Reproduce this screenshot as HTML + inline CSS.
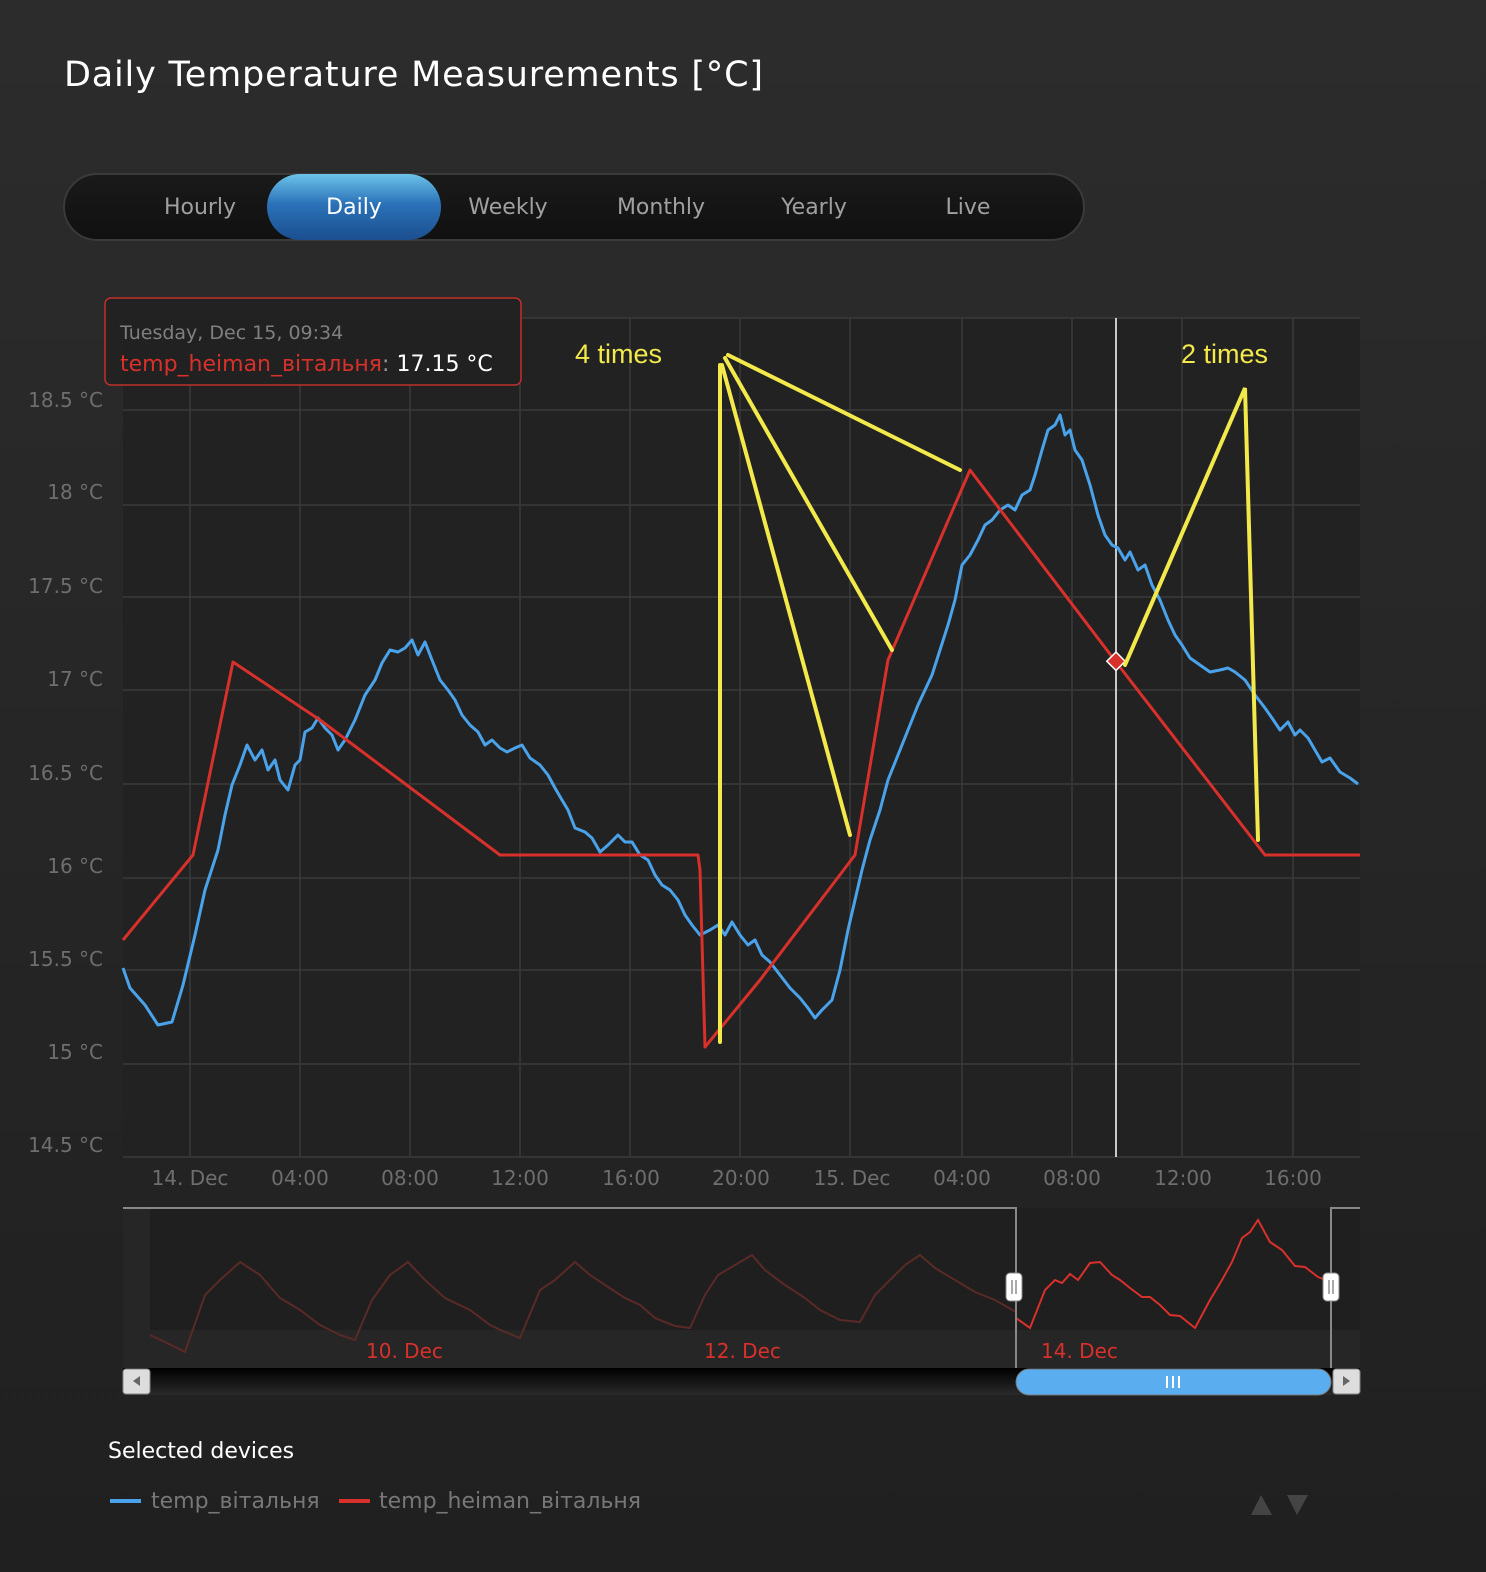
<!DOCTYPE html>
<html><head><meta charset="utf-8"><style>
html,body{margin:0;padding:0;}
body{width:1486px;height:1572px;background:linear-gradient(#2c2c2c,#202020);overflow:hidden;font-family:"DejaVu Sans","Liberation Sans",sans-serif;}
svg{display:block;}
</style></head><body>
<svg width="1486" height="1572" xmlns="http://www.w3.org/2000/svg" font-family="DejaVu Sans, Liberation Sans, sans-serif">
<defs>
<linearGradient id="pill" x1="0" y1="0" x2="0" y2="1"><stop offset="0" stop-color="#6cc3ea"/><stop offset="0.45" stop-color="#2b72b8"/><stop offset="1" stop-color="#1b4f8f"/></linearGradient>
<linearGradient id="bar" x1="0" y1="0" x2="0" y2="1"><stop offset="0" stop-color="#1a1a1a"/><stop offset="1" stop-color="#101010"/></linearGradient>
<linearGradient id="sb" x1="0" y1="0" x2="0" y2="1"><stop offset="0" stop-color="#000"/><stop offset="1" stop-color="#2a2a2a"/></linearGradient>
</defs>
<text x="64" y="86" font-size="35" fill="#fff" textLength="699">Daily Temperature Measurements [°C]</text>
<rect x="64" y="174" width="1020" height="66" rx="33" fill="url(#bar)" stroke="#3a3a3a" stroke-width="2"/>
<rect x="267" y="174" width="174" height="66" rx="33" fill="url(#pill)"/>
<g font-size="22" fill="#a0a0a0" text-anchor="middle">
<text x="200" y="214">Hourly</text><text x="354" y="214" fill="#fff">Daily</text><text x="508" y="214">Weekly</text><text x="661" y="214">Monthly</text><text x="814" y="214">Yearly</text><text x="968" y="214">Live</text>
</g>
<rect x="123" y="318" width="1237" height="839" fill="#222"/>
<g stroke="#3a3a3a" stroke-width="1.5">
<line x1="123" y1="318" x2="1360" y2="318"/><line x1="123" y1="410" x2="1360" y2="410"/><line x1="123" y1="505" x2="1360" y2="505"/><line x1="123" y1="597" x2="1360" y2="597"/><line x1="123" y1="690" x2="1360" y2="690"/><line x1="123" y1="784" x2="1360" y2="784"/><line x1="123" y1="878" x2="1360" y2="878"/><line x1="123" y1="970" x2="1360" y2="970"/><line x1="123" y1="1064" x2="1360" y2="1064"/><line x1="123" y1="1157" x2="1360" y2="1157"/>
<line x1="190" y1="318" x2="190" y2="1157"/><line x1="300" y1="318" x2="300" y2="1157"/><line x1="410" y1="318" x2="410" y2="1157"/><line x1="520" y1="318" x2="520" y2="1157"/><line x1="630" y1="318" x2="630" y2="1157"/><line x1="740" y1="318" x2="740" y2="1157"/><line x1="850" y1="318" x2="850" y2="1157"/><line x1="962" y1="318" x2="962" y2="1157"/><line x1="1072" y1="318" x2="1072" y2="1157"/><line x1="1182" y1="318" x2="1182" y2="1157"/><line x1="1293" y1="318" x2="1293" y2="1157"/>
</g>
<g font-size="20" fill="#6e6e6e" text-anchor="end">
<text x="103" y="407">18.5 °C</text><text x="103" y="499">18 °C</text><text x="103" y="593">17.5 °C</text><text x="103" y="686">17 °C</text><text x="103" y="780">16.5 °C</text><text x="103" y="873">16 °C</text><text x="103" y="966">15.5 °C</text><text x="103" y="1059">15 °C</text><text x="103" y="1152">14.5 °C</text>
</g>
<g font-size="20" fill="#6e6e6e" text-anchor="middle">
<text x="190" y="1185">14. Dec</text><text x="300" y="1185">04:00</text><text x="410" y="1185">08:00</text><text x="520" y="1185">12:00</text><text x="631" y="1185">16:00</text><text x="741" y="1185">20:00</text><text x="852" y="1185">15. Dec</text><text x="962" y="1185">04:00</text><text x="1072" y="1185">08:00</text><text x="1183" y="1185">12:00</text><text x="1293" y="1185">16:00</text>
</g>
<line x1="1116" y1="318" x2="1116" y2="1157" stroke="#fff" stroke-width="1.5"/>
<polyline fill="none" stroke="#4aa3ea" stroke-width="3" stroke-linejoin="round" points="123,968 130,988 145,1005 158,1025 172,1022 183,985 195,935 205,890 218,850 225,815 232,785 240,765 247,745 255,760 262,750 268,770 275,760 280,780 288,790 295,765 300,760 305,732 312,728 318,718 325,728 332,735 338,750 345,740 355,720 365,695 375,680 382,663 390,650 398,652 405,648 412,640 418,655 425,642 432,660 440,680 448,690 455,700 462,715 470,725 478,732 485,745 492,740 500,748 507,752 515,748 522,745 530,758 540,765 548,775 555,788 562,800 568,810 575,828 585,832 592,838 600,852 608,845 618,835 625,842 632,842 640,855 648,860 655,875 662,885 670,890 678,900 685,915 692,925 700,935 710,930 718,925 725,935 732,922 740,935 748,945 755,940 762,955 770,962 780,975 790,988 800,998 808,1008 815,1018 822,1010 832,1000 840,970 848,930 855,900 862,870 870,840 880,810 888,780 898,755 908,730 918,705 925,690 932,675 940,650 948,625 955,600 962,565 970,555 978,540 985,525 992,520 1000,510 1008,505 1015,510 1022,495 1030,490 1035,475 1042,450 1048,430 1055,425 1060,415 1065,435 1070,430 1075,450 1082,460 1090,485 1098,515 1105,535 1112,545 1118,548 1125,560 1130,552 1138,570 1145,565 1152,585 1160,600 1168,620 1175,635 1182,645 1190,658 1200,665 1210,672 1220,670 1228,668 1235,672 1245,680 1255,695 1265,708 1272,718 1280,730 1288,722 1295,735 1300,730 1308,738 1315,750 1322,762 1330,758 1340,772 1350,778 1358,784"/>
<polyline fill="none" stroke="#d8302a" stroke-width="3" stroke-linejoin="round" points="123,940 193,855 233,662 320,720 500,855 698,855 700,870 705,1047 760,980 855,855 888,660 970,470 1116,662 1265,855 1360,855"/>
<rect x="1109" y="655" width="13" height="13" fill="#d8302a" stroke="#fff" stroke-width="1.5" transform="rotate(45 1116 662)"/>
<g stroke="#f3e94a" stroke-width="4" fill="none" stroke-linecap="round">
<line x1="720" y1="1042" x2="720" y2="365"/>
<line x1="722" y1="365" x2="850" y2="835"/>
<line x1="725" y1="358" x2="892" y2="650"/>
<line x1="728" y1="355" x2="960" y2="470"/>
<polyline points="1125,665 1245,388 1258,840"/>
</g>
<text x="575" y="363" font-size="27" fill="#f3e94a" font-family="Liberation Sans, sans-serif">4 times</text>
<text x="1181" y="363" font-size="27" fill="#f3e94a" font-family="Liberation Sans, sans-serif">2 times</text>
<rect x="105" y="298" width="416" height="87" rx="6" fill="#222" fill-opacity="0.92" stroke="#c0302a" stroke-width="1.5"/>
<text x="120" y="339" font-size="19" fill="#808080">Tuesday, Dec 15, 09:34</text>
<text x="120" y="371" font-size="22" fill="#d8302a">temp_heiman_вітальня<tspan fill="#999">:</tspan> <tspan fill="#fff">17.15 °C</tspan></text>
<rect x="123" y="1208" width="1237" height="160" fill="#262626"/>
<rect x="150" y="1208" width="1210" height="122" fill="#1f1f1f"/>
<polyline fill="none" stroke="#5a2a26" stroke-width="2" points="150,1335 165,1342 185,1352 205,1295 220,1280 240,1262 260,1275 280,1298 300,1310 320,1325 340,1335 355,1340 372,1300 390,1275 408,1262 425,1280 445,1298 470,1310 490,1325 505,1332 520,1338 540,1290 555,1280 575,1262 590,1275 605,1285 625,1298 640,1305 655,1318 675,1326 690,1328 705,1295 718,1275 735,1265 752,1255 765,1270 785,1285 805,1298 820,1310 840,1320 860,1322 875,1295 890,1280 905,1265 920,1255 935,1268 955,1280 975,1292 995,1300 1016,1312"/>
<polyline fill="none" stroke="#d8302a" stroke-width="2" points="1016,1318 1030,1328 1045,1290 1055,1280 1062,1283 1070,1274 1078,1280 1090,1263 1100,1262 1112,1275 1120,1280 1130,1288 1142,1297 1150,1297 1160,1305 1170,1315 1180,1316 1195,1328 1210,1300 1222,1280 1232,1262 1242,1238 1250,1232 1258,1220 1270,1242 1282,1250 1295,1266 1305,1267 1318,1277 1331,1282"/>
<g stroke="#888" stroke-width="2" fill="none"><polyline points="123,1208 1016,1208 1016,1368"/><polyline points="1331,1368 1331,1208 1360,1208"/></g>
<g font-size="20" fill="#d8302a"><text x="366" y="1358">10. Dec</text><text x="704" y="1358">12. Dec</text><text x="1041" y="1358">14. Dec</text></g>
<rect x="1006" y="1273" width="16" height="28" rx="4" fill="#fff" stroke="#888"/><line x1="1012" y1="1280" x2="1012" y2="1294" stroke="#555"/><line x1="1016" y1="1280" x2="1016" y2="1294" stroke="#555"/>
<rect x="1323" y="1273" width="16" height="28" rx="4" fill="#fff" stroke="#888"/><line x1="1329" y1="1280" x2="1329" y2="1294" stroke="#555"/><line x1="1333" y1="1280" x2="1333" y2="1294" stroke="#555"/>
<rect x="123" y="1368" width="1237" height="27" fill="url(#sb)"/>
<rect x="1016" y="1369" width="315" height="26" rx="13" fill="#5aaef0" stroke="#777"/>
<g stroke="#fff" stroke-width="2"><line x1="1167" y1="1376" x2="1167" y2="1388"/><line x1="1173" y1="1376" x2="1173" y2="1388"/><line x1="1179" y1="1376" x2="1179" y2="1388"/></g>
<rect x="123" y="1369" width="27" height="25" rx="3" fill="#ddd" stroke="#888"/><path d="M140,1376 L133,1381 L140,1386Z" fill="#666"/>
<rect x="1333" y="1369" width="27" height="25" rx="3" fill="#ddd" stroke="#888"/><path d="M1343,1376 L1350,1381 L1343,1386Z" fill="#666"/>
<text x="108" y="1458" font-size="22" fill="#fff">Selected devices</text>
<line x1="110" y1="1501" x2="141" y2="1501" stroke="#4aa3ea" stroke-width="4"/>
<text x="151" y="1508" font-size="22" fill="#777">temp_вітальня</text>
<line x1="339" y1="1501" x2="370" y2="1501" stroke="#d8302a" stroke-width="4"/>
<text x="379" y="1508" font-size="22" fill="#777">temp_heiman_вітальня</text>
<path d="M1251,1515 L1261,1495 L1272,1515Z" fill="#444"/><path d="M1287,1495 L1308,1495 L1297,1515Z" fill="#444"/>
</svg>
</body></html>
